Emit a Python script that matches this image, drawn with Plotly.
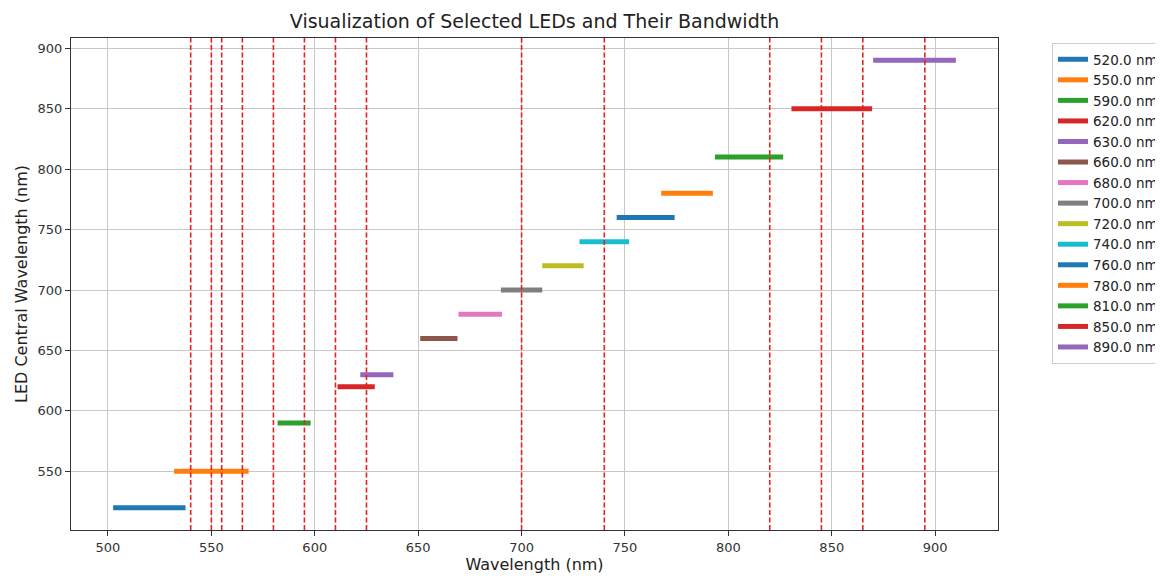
import plotly.graph_objects as go

# LED central wavelengths (nm) and bandwidths (nm)
led_centers = [520, 550, 590, 620, 630, 660, 680, 700, 720, 740, 760, 780, 810, 850, 890]
led_bandwidths = [35, 36, 16, 18, 16, 18, 21, 20, 20, 24, 28, 25, 33, 39, 40]
# selected filter wavelengths (red dashed lines)
filter_wavelengths = [540, 550, 555, 565, 580, 595, 610, 625, 700, 740, 820, 845, 865, 895]

x_ticks = [500, 550, 600, 650, 700, 750, 800, 850, 900]
y_ticks = [550, 600, 650, 700, 750, 800, 850, 900]

tab10 = ['#1f77b4', '#ff7f0e', '#2ca02c', '#d62728', '#9467bd',
         '#8c564b', '#e377c2', '#7f7f7f', '#bcbd22', '#17becf']

FONT = "DejaVu Sans"
# the page body has an 8px default margin; size the figure to fill the window
OFF = 8
W, H = 1163 - OFF, 576 - OFF

fig = go.Figure()
for i, (c, bw) in enumerate(zip(led_centers, led_bandwidths)):
    fig.add_trace(go.Scatter(
        x=[c - bw / 2, c + bw / 2], y=[c, c],
        mode="lines", name=f"{c:.1f} nm",
        line=dict(color=tab10[i % 10], width=5),
    ))

for w in filter_wavelengths:
    fig.add_shape(type="line", xref="x", yref="paper", x0=w, x1=w, y0=0, y1=1,
                  line=dict(color="#e8201f", width=1.6, dash="5px,2.5px"), layer="above")

lo = min(c - b / 2 for c, b in zip(led_centers, led_bandwidths))
hi = max(c + b / 2 for c, b in zip(led_centers, led_bandwidths))
xpad = 0.05 * (hi - lo)
ypad = 0.05 * (max(led_centers) - min(led_centers))

axis_common = dict(
    showgrid=True, gridcolor="#c8c8c8", gridwidth=1,
    showline=True, linecolor="#333333", linewidth=1, mirror=True,
    ticks="outside", ticklen=5, tickcolor="#333333", tickwidth=1,
    zeroline=False,
    tickfont=dict(family=FONT, size=13, color="#333333"),
)

L, R, T, B = 71 - OFF, 998 - OFF, 38 - OFF, 530 - OFF

fig.update_layout(
    width=W, height=H,
    paper_bgcolor="white", plot_bgcolor="white",
    margin=dict(l=L, r=W - R, t=T, b=H - B, autoexpand=False),
    title=dict(text="Visualization of Selected LEDs and Their Bandwidth",
               x=(L + R) / 2 / W, xanchor="center", y=1 - (21 - OFF) / H, yanchor="middle",
               font=dict(family=FONT, size=19, color="#222222")),
    xaxis=dict(range=[lo - xpad, hi + xpad], tickvals=x_ticks,
               title=dict(text="Wavelength (nm)", font=dict(family=FONT, size=16, color="#222222"), standoff=4),
               **axis_common),
    yaxis=dict(range=[min(led_centers) - ypad, max(led_centers) + ypad], tickvals=y_ticks,
               title=dict(text="LED Central Wavelength (nm)", font=dict(family=FONT, size=16, color="#222222"), standoff=5),
               **axis_common),
    legend=dict(x=(1052 - OFF - L) / (R - L), y=1 - (43 - 38) / (B - T), xanchor="left", yanchor="top",
                bgcolor="white", bordercolor="#cccccc", borderwidth=1,
                font=dict(family=FONT, size=13.5, color="#222222"),
                tracegroupgap=0),
    showlegend=True,
)

fig.write_html("out.html")
